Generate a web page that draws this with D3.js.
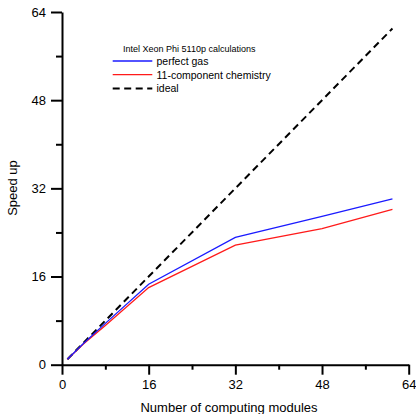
<!DOCTYPE html>
<html>
<head>
<meta charset="utf-8">
<script src="https://cdn.jsdelivr.net/npm/d3@7"></script>
<style>
  body { margin: 0; background: #fff; }
  svg { font-family: "Liberation Sans", Arial, sans-serif; }
</style>
</head>
<body>
<div id="chart"></div>
<script>
// data
var modules = [1, 4, 8, 16, 32, 48, 61];
var perfectGas = [1, 3.9, 7.5, 14.6, 23.1, 26.9, 30.1];
var chemistry = [1, 3.8, 7.1, 14.0, 21.7, 24.7, 28.2];
var ideal = [1, 4, 8, 16, 32, 48, 61];
var majorTicks = [0, 16, 32, 48, 64];
var minorTicks = [8, 24, 40, 56];

var series = [
  { name: 'perfect gas', values: perfectGas, color: '#1a1aff', dash: null },
  { name: '11-component chemistry', values: chemistry, color: '#ff1a1a', dash: null },
  { name: 'ideal', values: ideal, color: '#000', dash: '7,4.5' }
];

var width = 416, height = 414;
var svg = d3.select('#chart').append('svg')
  .attr('width', width)
  .attr('height', height);

var x = d3.scaleLinear().domain([0, 64]).range([62, 408.7]);
var y = d3.scaleLinear().domain([0, 64]).range([364.7, 12]);

// axes
svg.append('g')
  .attr('transform', 'translate(0,' + y(0) + ')')
  .call(d3.axisBottom(x).tickValues(majorTicks).tickSize(10).tickPadding(5).tickSizeOuter(0));
svg.append('g')
  .attr('transform', 'translate(0,' + y(0) + ')')
  .call(d3.axisBottom(x).tickValues(minorTicks).tickSize(5).tickFormat('').tickSizeOuter(0))
  .select('.domain').remove();

svg.append('g')
  .attr('transform', 'translate(' + x(0) + ',0)')
  .call(d3.axisLeft(y).tickValues(majorTicks).tickSize(11).tickPadding(5).tickSizeOuter(0));
svg.append('g')
  .attr('transform', 'translate(' + x(0) + ',0)')
  .call(d3.axisLeft(y).tickValues(minorTicks).tickSize(6).tickFormat('').tickSizeOuter(0))
  .select('.domain').remove();

svg.selectAll('.domain, .tick line')
  .attr('stroke', '#000')
  .attr('stroke-width', 2);
svg.selectAll('.tick text')
  .attr('fill', '#000')
  .style('font-family', '"Liberation Sans", Arial, sans-serif')
  .style('font-size', '13px');

// axis titles
svg.append('text')
  .attr('x', 229)
  .attr('y', 412)
  .attr('text-anchor', 'middle')
  .style('font-size', '13px')
  .text('Number of computing modules');

svg.append('text')
  .attr('transform', 'translate(17,188) rotate(-90)')
  .attr('text-anchor', 'middle')
  .style('font-size', '13px')
  .text('Speed up');

// lines
var line = d3.line()
  .x(function(d, i) { return x(modules[i]); })
  .y(function(d) { return y(d); });

svg.selectAll('.series')
  .data(series.slice().reverse())
  .enter().append('path')
  .attr('class', 'series')
  .attr('fill', 'none')
  .attr('stroke', function(d) { return d.color; })
  .attr('stroke-width', function(d) { return d.dash ? 2 : 1.3; })
  .attr('stroke-dasharray', function(d) { return d.dash; })
  .attr('d', function(d) { return line(d.values); });

// legend
var legend = svg.append('g');
legend.append('text')
  .attr('x', 123)
  .attr('y', 52.3)
  .style('font-size', '9px')
  .text('Intel Xeon Phi 5110p calculations');

var item = legend.selectAll('.item')
  .data(series)
  .enter().append('g')
  .attr('class', 'item')
  .attr('transform', function(d, i) { return 'translate(0,' + (61 + i * 13.7) + ')'; });

item.append('line')
  .attr('x1', 112.7)
  .attr('x2', 152.3)
  .attr('stroke', function(d) { return d.color; })
  .attr('stroke-width', function(d) { return d.dash ? 2 : 1.3; })
  .attr('stroke-dasharray', function(d) { return d.dash; });

item.append('text')
  .attr('x', 156.5)
  .attr('y', 3.8)
  .style('font-size', '10.5px')
  .text(function(d) { return d.name; });
</script>
</body>
</html>
